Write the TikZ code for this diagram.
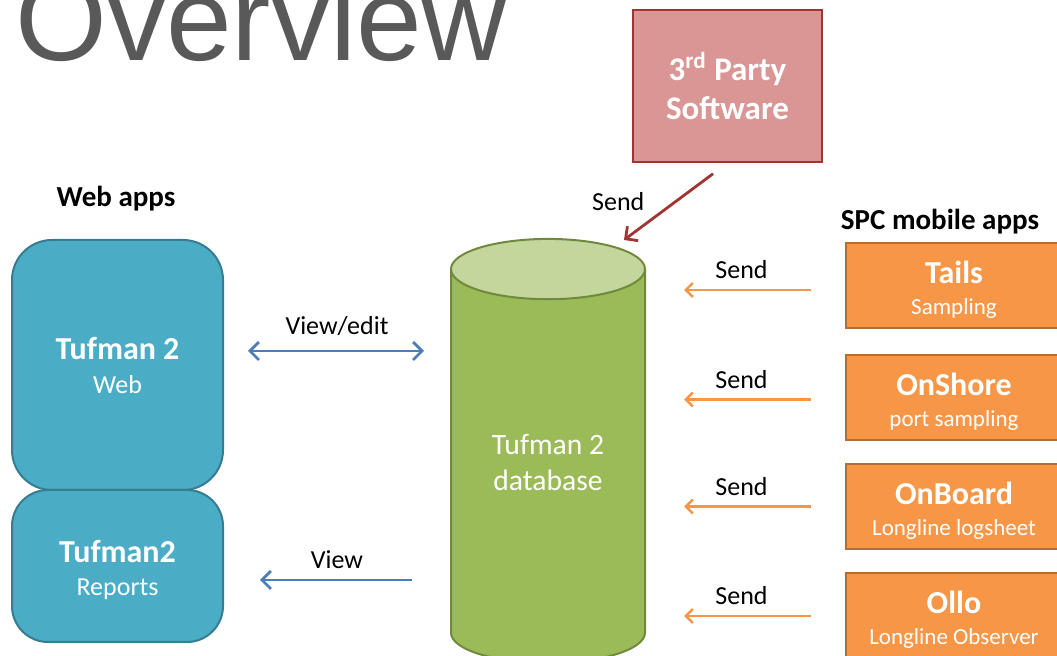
\documentclass[tikz,border=0pt]{standalone}
\usepackage{fontspec}
\setmainfont{Carlito}
\newfontfamily\titlefont{Liberation Sans}
\usepackage{xcolor}
\definecolor{tufblue}{RGB}{75,172,198}
\definecolor{tufbluedark}{RGB}{53,125,145}
\definecolor{dbgreen}{RGB}{155,187,89}
\definecolor{dbgreenlight}{RGB}{195,214,155}
\definecolor{dbgreendark}{RGB}{113,137,63}
\definecolor{partyred}{RGB}{217,150,148}
\definecolor{partyreddark}{RGB}{160,52,50}
\definecolor{apporange}{RGB}{247,150,70}
\definecolor{apporangedark}{RGB}{182,109,49}
\definecolor{linkblue}{RGB}{74,126,187}
\definecolor{titlegray}{RGB}{89,89,89}
\usetikzlibrary{arrows.meta,positioning,shapes.geometric,calc}
\newcommand{\boxtitle}[1]{\rule{0pt}{15pt}{\bfseries\fontsize{16}{16}\selectfont #1}}

\begin{document}
\begin{tikzpicture}[x=0.5pt, y=-0.5pt,
  webbox/.style={draw=tufbluedark, line width=1pt, fill=tufblue, text=white,
    minimum width=105.5pt, align=center, inner sep=0pt, font=\fontsize{13}{17}\selectfont},
  appbox/.style={draw=apporangedark, line width=1pt, fill=apporange, text=white,
    minimum width=108pt, minimum height=42.5pt, align=center, inner sep=0pt,
    font=\fontsize{11.5}{15.5}\selectfont},
  sendlink/.style={draw=apporange, line width=1.25pt, -{Straight Barb[length=3.5pt,width=7pt]}},
  viewlink/.style={draw=linkblue, line width=1.4pt, -{Straight Barb[length=4.5pt,width=9pt]}},
  partylink/.style={draw=partyreddark, line width=1.4pt, -{Straight Barb[length=4.5pt,width=9pt]}},
  lbl/.style={font=\fontsize{13}{15}\selectfont, inner sep=1pt},
  grouplbl/.style={anchor=base, font=\bfseries\fontsize{14.5}{16}\selectfont}]

\useasboundingbox (0,0) rectangle (1057,656);
\clip (0,0) rectangle (1057,656);

\node[anchor=base west, inner sep=0pt, text=titlegray,
  font=\titlefont\fontsize{59}{62}\selectfont] (title) at (15,61) {Overview};

% web side
\node[grouplbl] (webapps) at (116,207) {Web apps};
\node[webbox, minimum height=125pt, rounded corners=20pt] (web) at (117.5,365)
  {{\bfseries\fontsize{16}{17}\selectfont Tufman 2}\\Web};
\node[webbox, minimum height=76pt, rounded corners=18pt,
  font=\fontsize{13}{16.5}\selectfont] (reports) at (117.5,566)
  {\boxtitle{Tufman2}\\Reports};

% database
\node[cylinder, shape border rotate=90, aspect=0.48, draw=dbgreendark, line width=1pt,
  cylinder uses custom fill, cylinder body fill=dbgreen, cylinder end fill=dbgreenlight,
  minimum width=97pt, minimum height=212pt, text=white, align=center,
  font=\fontsize{14.8}{18}\selectfont] (db) at (548,472)
  {Tufman 2\\database\rule[-10pt]{0pt}{10pt}};
\coordinate (dbinlet) at (624,240);

\node[draw=partyreddark, line width=1pt, fill=partyred, text=white,
  minimum width=94.5pt, minimum height=76pt, align=center,
  font=\bfseries\fontsize{16.5}{19.5}\selectfont] (party) at (727.5,86)
  {3\textsuperscript{rd} Party\\Software};

% mobile apps
\node[grouplbl] (mobapps) at (940,230) {SPC mobile apps};
\node[appbox] (tails) at (954,286) {\boxtitle{Tails}\\Sampling};
\node[appbox] (onshore) at (954,397.5) {\boxtitle{OnShore}\\port sampling};
\node[appbox] (onboard) at (954,506.5) {\boxtitle{OnBoard}\\Longline logsheet};
\node[appbox] (ollo) at (954,616) {\boxtitle{Ollo}\\Longline Observer};

% links
\draw[viewlink, {Straight Barb[length=4.5pt,width=9pt]}-{Straight Barb[length=4.5pt,width=9pt]},
  shorten <=12pt, shorten >=13pt]
  ([yshift=7pt]web.east) -- ([yshift=7pt]web.east -| db.west)
  node[lbl, midway, above=6pt] {View/edit};
\draw[viewlink, shorten <=19pt, shorten >=18pt]
  ([yshift=-7pt]reports.east -| db.west) -- ([yshift=-7pt]reports.east)
  node[lbl, midway, above=4pt] {View};
\draw[partylink, shorten <=9pt] (party.south) -- (dbinlet)
  node[lbl, midway, left=14pt] {Send};
\foreach \app/\dy in {tails/-2pt, onshore/-1pt, onboard/0pt, ollo/0pt}
  \draw[sendlink, shorten <=17pt, shorten >=19pt]
    ([yshift=\dy]\app.west) -- ([yshift=\dy]\app.west -| db.east)
    node[lbl, midway, above=4pt, xshift=-2pt] {Send};

\end{tikzpicture}
\end{document}
